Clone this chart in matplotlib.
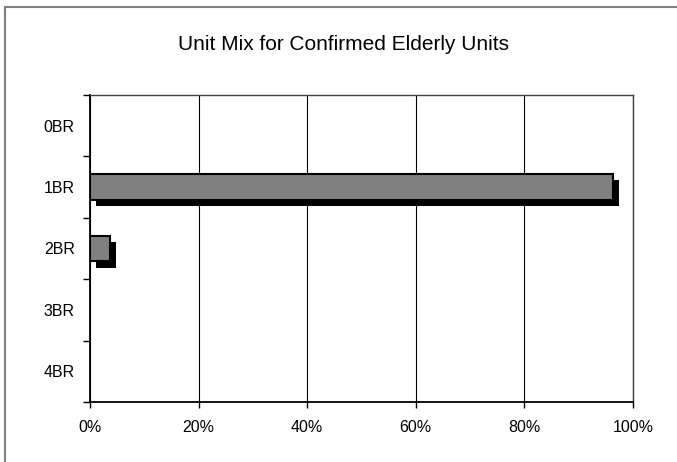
import matplotlib
matplotlib.use("Agg")
import matplotlib.pyplot as plt
from matplotlib.lines import Line2D
from matplotlib.ticker import FuncFormatter, FixedLocator

categories = ["0BR", "1BR", "2BR", "3BR", "4BR"]
shares = [0.0, 96.3, 3.7, 0.0, 0.0]
x_ticks = [0, 20, 40, 60, 80, 100]
title = "Unit Mix for Confirmed Elderly Units"

plt.rcParams["font.family"] = ["Liberation Sans", "DejaVu Sans"]

fig = plt.figure(figsize=(6.77, 4.62), dpi=100)
ax = fig.add_axes([90 / 677, 1 - 402 / 462, 543 / 677, 307 / 462])

# outer chart frame (only top and left edges show in the original)
fx, fy = 5 / 677, 1 - 7 / 462
fig.lines.append(Line2D([fx, 1.0], [fy, fy], transform=fig.transFigure,
                        color="#808080", linewidth=1.5))
fig.lines.append(Line2D([fx, fx], [0.0, fy], transform=fig.transFigure,
                        color="#808080", linewidth=1.5))

ypos = list(range(len(categories)))
bar_h = 0.42
dx, dy = 1.1, 0.1
for y, v in zip(ypos, shares):
    if v <= 0:
        continue
    # drop shadow
    ax.barh(y + dy, v, height=bar_h, left=dx, color="black", zorder=2)
    ax.barh(y, v, height=bar_h, color="#808080", edgecolor="black",
            linewidth=1.5, zorder=3)

ax.set_xlim(0, 100)
ax.set_ylim(len(categories) - 0.5, -0.5)
ax.set_yticks(ypos)
ax.set_yticklabels(categories, fontsize=11.5)
ax.yaxis.set_minor_locator(FixedLocator([i - 0.5 for i in range(len(categories) + 1)]))
ax.tick_params(axis="y", which="major", length=0, pad=11)
ax.tick_params(axis="y", which="minor", length=5, width=1, direction="out")
ax.set_xticks(x_ticks)
ax.xaxis.set_major_formatter(FuncFormatter(lambda v, p: f"{int(v)}%"))
ax.tick_params(axis="x", length=4, width=1, direction="out", labelsize=11.5, pad=9)
ax.grid(axis="x", color="black", linewidth=0.8, zorder=0)
ax.set_axisbelow(True)
for side in ["left", "bottom"]:
    ax.spines[side].set_linewidth(1.3)
for side in ["top", "right"]:
    ax.spines[side].set_linewidth(1.0)
    ax.spines[side].set_color("#404040")

fig.text(343 / 677, 1 - 45 / 462, title, ha="center", va="center", fontsize=15)

fig.savefig("out.png", dpi=100)
